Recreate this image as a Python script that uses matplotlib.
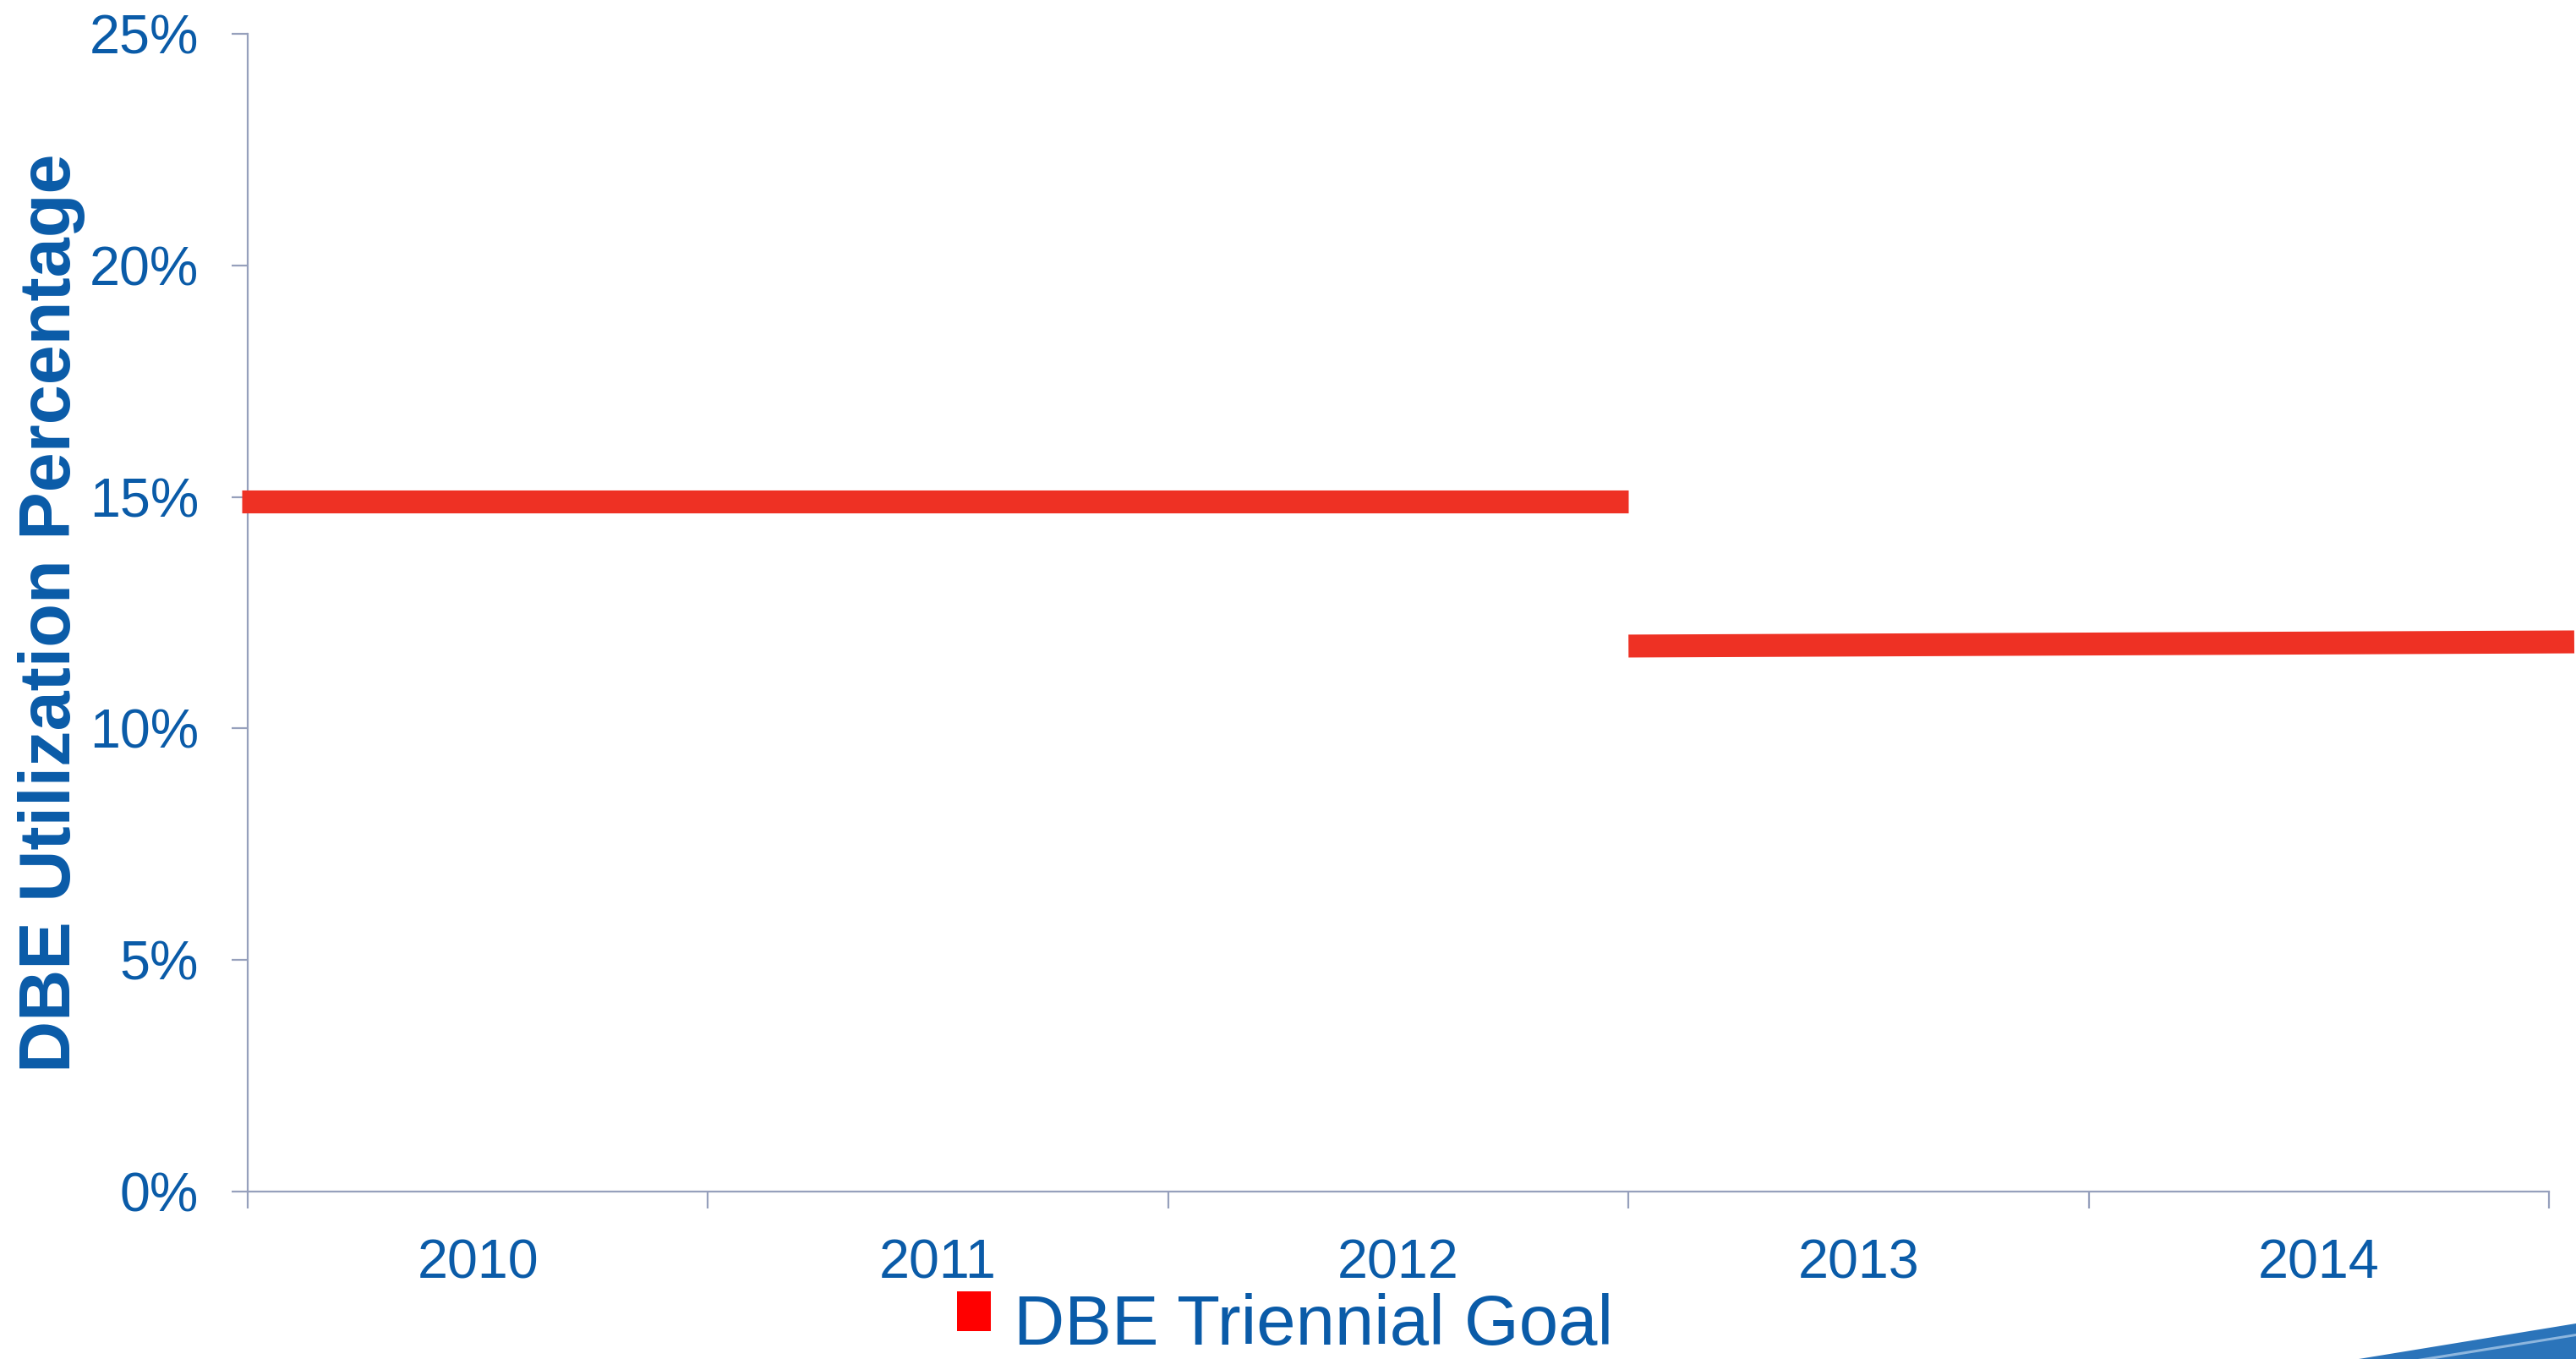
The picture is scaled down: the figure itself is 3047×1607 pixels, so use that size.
import matplotlib.pyplot as plt
from matplotlib.patches import Patch, Polygon, Rectangle
from matplotlib.legend_handler import HandlerPatch

YEARS = ['2010', '2011', '2012', '2013', '2014']
# triennial goal periods: first and last year index, goal at start and end
GOAL_FIRST = [0, 3]
GOAL_LAST = [2, 4]
GOAL_START = [14.91, 11.78]
GOAL_END = [14.91, 11.87]
Y_TICKS = [0, 5, 10, 15, 20, 25]
LEGEND_LABEL = 'DBE Triennial Goal'

BLUE = '#0A5BA8'
AXIS = '#96A0BC'
RED_LINE = '#EE3124'

plt.rcParams['font.family'] = ['Liberation Sans', 'DejaVu Sans']


def raised_square(legend, orig_handle, xdescent, ydescent, width, height, fontsize):
    # legend square sits at the height of the capitals, not the text box centre
    return Rectangle((-xdescent, -ydescent + 7), width, height)


if __name__ == '__main__':
    fig = plt.figure(figsize=(30.47, 16.07), dpi=100)
    ax = fig.add_axes([0.0962, 0.1232, 0.8933, 0.8519])

    for i in range(len(GOAL_FIRST)):
        x0 = GOAL_FIRST[i] - 0.5
        x1 = GOAL_LAST[i] + 0.5
        # the drawn lines run a little past the category edges
        if i == 0:
            x0 -= 0.013
        else:
            x1 += 0.055
        ax.plot([x0, x1], [GOAL_START[i], GOAL_END[i]], color=RED_LINE,
                linewidth=19.5, solid_capstyle='butt', clip_on=False, zorder=3)

    ax.set_xlim(-0.5, len(YEARS) - 0.5)
    ax.set_ylim(0, 25)
    ax.set_xticks(range(len(YEARS)))
    ax.set_xticklabels(YEARS)
    ax.set_xticks([i - 0.5 for i in range(len(YEARS) + 1)], minor=True)
    ax.set_yticks(Y_TICKS)
    ax.set_yticklabels([str(v) + '%' for v in Y_TICKS])

    for side in ['top', 'right']:
        ax.spines[side].set_visible(False)
    for side in ['left', 'bottom']:
        ax.spines[side].set_color(AXIS)
        ax.spines[side].set_linewidth(1.6)

    ax.tick_params(axis='x', which='major', length=0, pad=40, labelsize=46.5, labelcolor=BLUE)
    ax.tick_params(axis='x', which='minor', length=14.4, width=1.6, color=AXIS)
    ax.tick_params(axis='y', which='major', length=13.7, width=1.6, color=AXIS,
                   pad=28, labelsize=46.5, labelcolor=BLUE)

    ax.set_ylabel('DBE Utilization Percentage', fontsize=61, fontweight='bold', color=BLUE)
    ax.yaxis.set_label_coords(-0.0705, 0.5)

    handle = Patch(facecolor='#FF0000', edgecolor='none')
    fig.legend([handle], [LEGEND_LABEL], loc='lower left',
               bbox_to_anchor=(0.3715, 0.0), frameon=False, fontsize=60,
               labelcolor=BLUE, handlelength=0.48, handleheight=0.48,
               handletextpad=0.32, borderpad=0, borderaxespad=0,
               handler_map={Patch: HandlerPatch(patch_func=raised_square)})

    # decorative swoosh in the bottom right corner
    W, H = 3047, 1607
    swoosh = Polygon([(2790 / W, 0), (1, 42 / H), (1, 0)], closed=True,
                     transform=fig.transFigure, facecolor='#2B74BA', edgecolor='none')
    fig.patches.append(swoosh)
    stripe = Polygon([(2860 / W, 0), (1, 30 / H), (1, 27 / H), (2880 / W, 0)], closed=True,
                     transform=fig.transFigure, facecolor='#8DB6DE', edgecolor='none')
    fig.patches.append(stripe)

    fig.savefig('out.png', dpi=100)
